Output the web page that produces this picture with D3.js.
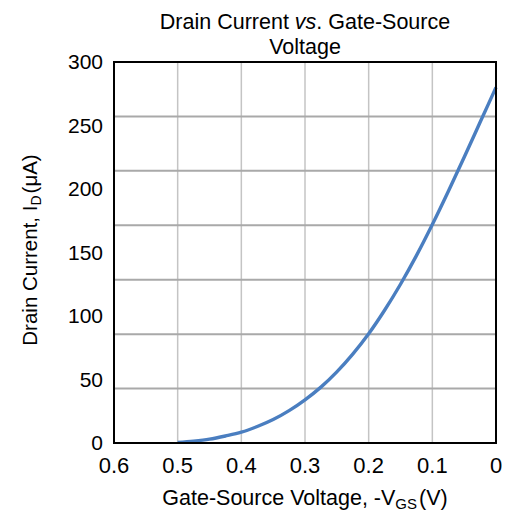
<!DOCTYPE html>
<html><head><meta charset="utf-8">
<script src="https://cdn.jsdelivr.net/npm/d3@7"></script>
<style>body{margin:0;background:#fff}svg{display:block}text{font-family:"Liberation Sans",Arial,sans-serif;fill:#000}</style>
</head><body><svg id="c" width="508" height="524"></svg>
<script>
const vgs = [0.50,0.475,0.45,0.425,0.40,0.375,0.35,0.325,0.30,0.275,0.25,0.225,0.20,0.175,0.15,0.125,0.10,0.075,0.05,0.025,0.0];
const id  = [0.5,1.5,3,5.5,8.5,13,18.5,25.5,34,44,56,70,86,104.5,125,147.5,172,198,225,252.5,280];
const xTicks = [0.6,0.5,0.4,0.3,0.2,0.1,0];
const xTickLabels = ["0.6","0.5","0.4","0.3","0.2","0.1","0"];
const yTicks = [0,50,100,150,200,250,300];
const hGrid = [42.9,85.7,128.6,171.4,214.3,257.1];

const svg = d3.select("#c");
const L=114,R=496,T=62,B=443;
const x = d3.scaleLinear().domain([0.6,0]).range([L,R]);
const y = d3.scaleLinear().domain([0,300]).range([B,T]);

svg.append("g").selectAll("line").data(xTicks.slice(1,-1)).join("line")
  .attr("x1",d=>x(d)).attr("x2",d=>x(d)).attr("y1",T).attr("y2",B)
  .attr("stroke","#c4c4c4").attr("stroke-width",1.5);
svg.append("g").selectAll("line").data(hGrid).join("line")
  .attr("x1",L).attr("x2",R).attr("y1",d=>y(d)).attr("y2",d=>y(d))
  .attr("stroke","#a9a9a9").attr("stroke-width",2);

const line = d3.line().x((d,i)=>x(vgs[i])).y(d=>y(d)).curve(d3.curveMonotoneX);
svg.append("path").datum(id).attr("d",line).attr("fill","none")
  .attr("stroke","#4a7ec0").attr("stroke-width",3.4);

svg.append("rect").attr("x",L).attr("y",T).attr("width",R-L).attr("height",B-T)
  .attr("fill","none").attr("stroke","#000").attr("stroke-width",2);

svg.append("g").selectAll("text").data(xTicks).join("text")
  .attr("x",d=>x(d)).attr("y",473).attr("text-anchor","middle")
  .attr("font-size",22).text((d,i)=>xTickLabels[i]);
svg.append("g").selectAll("text").data(yTicks).join("text")
  .attr("x",103).attr("y",d=>y(d)+7).attr("text-anchor","end")
  .attr("font-size",21).text(d=>d);

const t = svg.append("text").attr("text-anchor","middle").attr("font-size",21.5);
const t1 = t.append("tspan").attr("x",305).attr("y",29);
t1.append("tspan").text("Drain Current ");
t1.append("tspan").attr("font-style","italic").text("vs");
t1.append("tspan").text(". Gate-Source");
t.append("tspan").attr("x",305).attr("y",54).text("Voltage");

const xt = svg.append("text").attr("x",305).attr("y",505).attr("text-anchor","middle").attr("font-size",21.5);
xt.append("tspan").text("Gate-Source Voltage, -V");
xt.append("tspan").attr("font-size",15).attr("dy",4).text("GS");
xt.append("tspan").attr("dy",-4).attr("dx",2).text("(V)");

const yt = svg.append("text").attr("transform","translate(37,250) rotate(-90)").attr("text-anchor","middle").attr("font-size",20.5);
yt.append("tspan").text("Drain Current, I");
yt.append("tspan").attr("font-size",14).attr("dy",4).text("D");
yt.append("tspan").attr("dy",-4).attr("dx",2).text("(μA)");
</script></body></html>
